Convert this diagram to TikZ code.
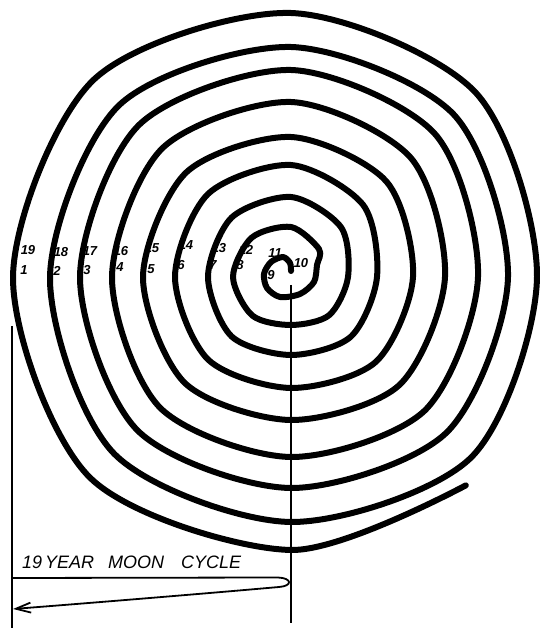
\documentclass[tikz,border=0pt]{standalone}
\usepackage{fontspec}
\newfontfamily\hand{Liberation Sans}
\usetikzlibrary{arrows.meta}
\tikzset{
  spiralline/.style={line width=6pt, line cap=round, line join=round, black},
  thinline/.style={line width=1.8pt, black},
  yearlbl/.style={font=\hand\itshape\bfseries\fontsize{13}{13}\selectfont, inner sep=0pt, text=black},
  titlelbl/.style={font=\hand\itshape\fontsize{18}{18}\selectfont, inner sep=0pt, text=black}
}
\begin{document}
\begin{tikzpicture}[x=1pt,y=1pt]
\useasboundingbox (0,0) rectangle (540,630);
\fill[white] (0,0) rectangle (540,630);
% spiral
\begin{scope}[shift={(291,353)}]
\draw[spiralline] plot[smooth] coordinates {
 (0,6) (-1,14) (-8,20) (-20,15) (-27,3) (-24,-11) (-11,-20) (9,-17) (23,-5) (26,12) (28,28)
 (450:50) (495:55.6) (540:58) (585:54.6) (630:48) (675:54) (720:57) (765:70.6)
 (810:80) (855:84) (900:83) (945:84) (990:78) (1035:84.5) (1080:86) (1125:102)
 (1170:112) (1215:117.4) (1260:116) (1305:117) (1350:111) (1395:120) (1440:122) (1485:135)
 (1530:140) (1575:148) (1620:148) (1665:150) (1710:143) (1755:153) (1800:154) (1845:169)
 (1890:175) (1935:182) (1980:179) (2025:185) (2070:180) (2115:189) (2160:187) (2205:203)
 (2250:207) (2295:215) (2340:211) (2385:217) (2430:211) (2475:220) (2520:217) (2565:230)
 (2610:230) (2655:243) (2700:241) (2745:250) (2790:245) (2835:255) (2880:246) (2925:261)
 (2970:264) (3015:279) (3060:278) (3105:284) (3150:273) (3190:272)
};
\end{scope}
% year labels
\node[yearlbl] (l19) at (28,380) {19};
\node[yearlbl] (l18) at (61,378) {18};
\node[yearlbl] (l17) at (90,379) {17};
\node[yearlbl] (l16) at (121,379) {16};
\node[yearlbl] (l15) at (152,382) {15};
\node[yearlbl] (l14) at (186,385) {14};
\node[yearlbl] (l13) at (219,382) {13};
\node[yearlbl] (l12) at (246,380) {12};
\node[yearlbl] (l11) at (275,377) {11};
\node[yearlbl] (l10) at (301,367) {10};
\node[yearlbl] (l1) at (24,360) {1};
\node[yearlbl] (l2) at (57,359) {2};
\node[yearlbl] (l3) at (87,360) {3};
\node[yearlbl] (l4) at (120,363) {4};
\node[yearlbl] (l5) at (151,361) {5};
\node[yearlbl] (l6) at (181,365) {6};
\node[yearlbl] (l7) at (213,365) {7};
\node[yearlbl] (l8) at (240,365) {8};
\node[yearlbl] (l9) at (271,355) {9};
% measuring lines
\coordinate (rtop) at (291,345);
\coordinate (rbot) at (291,7);
\coordinate (ltop) at (12,304);
\coordinate (lbot) at (12,2);
\draw[thinline] (rtop) -- (rbot);
\draw[thinline] (ltop) -- (lbot);
\coordinate (ul) at (12,52);
\coordinate (ur) at (278,52.5);
\coordinate (lr) at (279,43);
\coordinate (ll) at (13,21);
\draw[thinline, -{Straight Barb[length=15pt,width=10pt,line width=1.8pt]}]
  (ul) -- (ur) .. controls (292,52) and (293,44) .. (lr)
  .. controls (200,36) and (90,27) .. (ll);
\node[titlelbl, anchor=west] (title) at (22,68) {19\,YEAR\hspace{14pt}MOON\hspace{17pt}CYCLE};
\end{tikzpicture}
\end{document}
